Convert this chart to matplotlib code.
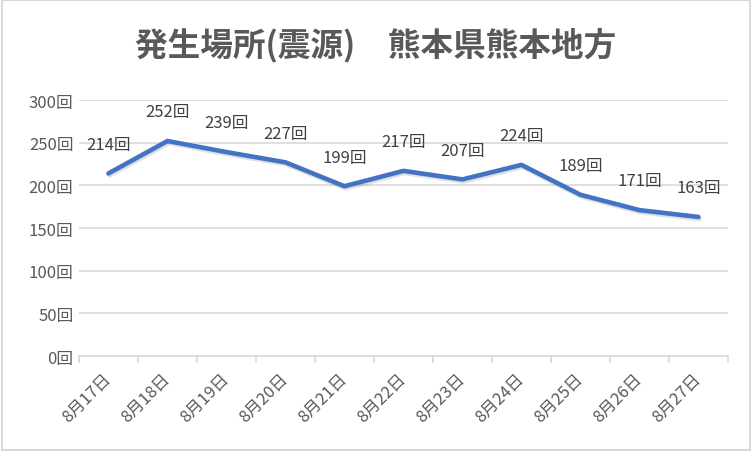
import matplotlib.pyplot as plt
import matplotlib.patheffects as pe
from matplotlib.patches import Rectangle
import numpy as np

plt.rcParams['font.family'] = ['Noto Sans CJK JP', 'DejaVu Sans']

TITLE = "発生場所(震源)　熊本県熊本地方"
days = ["8月17日", "8月18日", "8月19日", "8月20日", "8月21日", "8月22日",
        "8月23日", "8月24日", "8月25日", "8月26日", "8月27日"]
counts = [214, 252, 239, 227, 199, 217, 207, 224, 189, 171, 163]
yticks = [0, 50, 100, 150, 200, 250, 300]

TXT = "#595959"
GRID = "#D9D9D9"
BLUE = "#4472C4"

fig = plt.figure(figsize=(7.52, 4.52), dpi=100)
ax = fig.add_axes([0.105, 0.21, 0.863, 0.5665])

x = np.arange(len(days))
ax.plot(x, counts, color=BLUE, lw=3.3, solid_capstyle="round", solid_joinstyle="round",
        path_effects=[pe.SimpleLineShadow(offset=(0.8, -1.5), alpha=0.12), pe.Normal()],
        zorder=3)

for xi, v in zip(x, counts):
    ax.annotate(f"{v}回", (xi, v), xytext=(0, 21), textcoords="offset points",
                ha="center", va="center", fontsize=12, color="#404040")

ax.set_xlim(-0.5, len(days) - 0.5)
ax.set_ylim(0, 300)
ax.set_yticks(yticks)
ax.set_yticklabels([f"{t}回" for t in yticks], fontsize=12, color=TXT)
ax.yaxis.grid(True, color=GRID, lw=1.2)
ax.set_axisbelow(True)

ax.set_xticks(x)
ax.set_xticklabels(days, rotation=45, ha="right", va="center",
                   rotation_mode="anchor", fontsize=12, color=TXT)
ax.set_xticks(np.arange(-0.5, len(days)), minor=True)
ax.tick_params(axis="x", which="major", length=0, pad=14)
ax.tick_params(axis="x", which="minor", length=5, color=GRID, width=1.2)
ax.tick_params(axis="y", length=0, pad=4)

for s in ["top", "right", "left"]:
    ax.spines[s].set_visible(False)
ax.spines["bottom"].set_color(GRID)
ax.spines["bottom"].set_linewidth(1.2)

fig.text(0.5, 0.9, TITLE, ha="center", va="center", fontsize=23.5,
         fontweight="bold", color=TXT)

fig.patches.append(Rectangle((0.002, 0.003), 0.995, 0.994, transform=fig.transFigure,
                             fill=False, edgecolor=GRID, lw=1.5))

fig.savefig("out.png", dpi=100)
